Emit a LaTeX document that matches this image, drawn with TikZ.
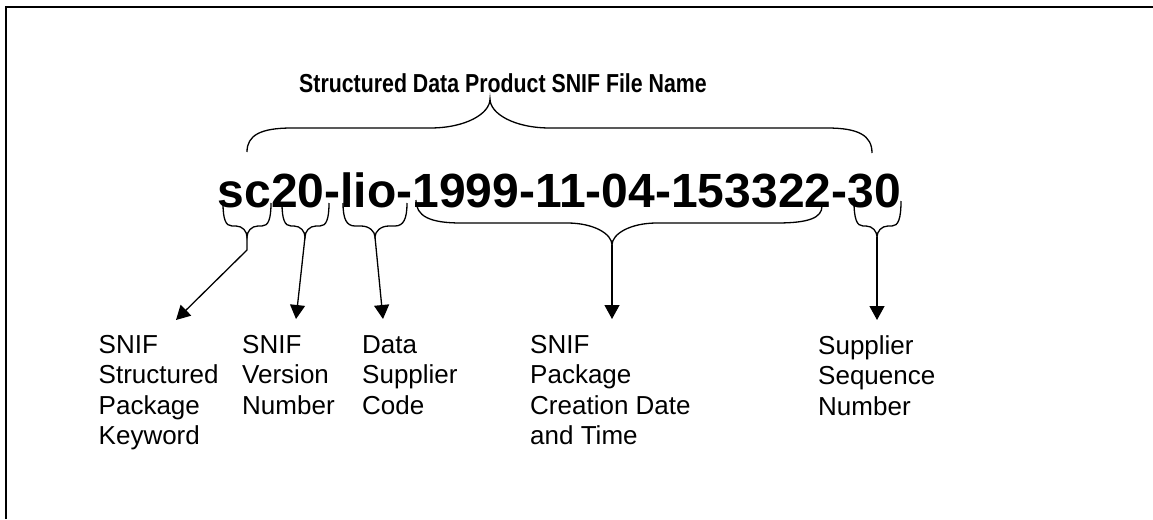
\documentclass[tikz,border=0pt]{standalone}
\usepackage{fontspec}
\setmainfont{Liberation Sans}
\newfontfamily\titulofont[FakeStretch=0.82]{Liberation Sans}
\usetikzlibrary{arrows.meta,calc}

%%%%	llave: x izq, x der, y izq, y der, y plano, x punta, y punta, rizo, curva
\newcommand{\llave}[9]{%
\draw[trazo]
 (#1,#3) .. controls (#1,{#3+0.7*(#5-#3)}) and ({#1+0.3*#8},#5) .. ({#1+#8},#5)
 -- ({#6-#9},#5) .. controls ({#6-0.4*#9},#5) and (#6,{#5+0.5*(#7-#5)}) .. (#6,#7)
 .. controls (#6,{#5+0.5*(#7-#5)}) and ({#6+0.4*#9},#5) .. ({#6+#9},#5)
 -- ({#2-#8},#5) .. controls ({#2-0.3*#8},#5) and (#2,{#4+0.7*(#5-#4)}) .. (#2,#4);}

\tikzset{
 trazo/.style={line width=1.3pt, black},
 flecha/.style={-{Triangle[length=14pt,width=15pt]}, line width=1.3pt, black},
 etiqueta/.style={anchor=north west, inner sep=0pt, align=left,
   font=\fontsize{26}{30.5}\selectfont,
   execute at begin node=\rule{0pt}{20pt}}		%%%%	misma altura de la primera linea
}

\begin{document}
\begin{tikzpicture}[x=1pt,y=-1pt]
\useasboundingbox (0,0) rectangle (1153,519);

%%%%%%%%%%%%%%%%%%%%%%%%%%%%%%%%%%%%%%%%%%%%%%%% 	MARCO
\draw[line width=2pt] (6,519) -- (6,7) -- (1153,7);

%%%%%%%%%%%%%%%%%%%%%%%%%%%%%%%%%%%%%%%%%%%%%%%% 	TITULO Y NOMBRE
\node[anchor=base, inner sep=0pt] (titulo) at (503,92.5)
 {\titulofont\bfseries\fontsize{26}{30}\selectfont Structured Data Product SNIF File Name};
\node[anchor=base west, inner sep=0pt] (nombre) at (217.5,207)
 {\bfseries\fontsize{48}{56}\selectfont sc20-lio-1999-11-04-153322-30};

%%%%%%%%%%%%%%%%%%%%%%%%%%%%%%%%%%%%%%%%%%%%%%%% 	LLAVES
\llave{247}{872}{152}{153}{128}{490}{99}{45}{60}		%%%%	llave de arriba
\llave{223}{271}{203}{203}{226}{247}{237}{9}{11}		%%%%	sc
\llave{282}{329}{203}{203}{226}{305}{237}{9}{11}		%%%%	20
\llave{343}{407}{203}{203}{226}{375}{237}{12}{14}		%%%%	lio
\llave{416}{822}{200}{206}{223}{612}{245}{45}{45}		%%%%	fecha y hora
\llave{854}{901}{201}{201}{226}{877}{237}{9}{11}		%%%%	30

\coordinate (puntaA) at (247,237);
\coordinate (puntaB) at (305,237);
\coordinate (puntaC) at (375,237);
\coordinate (puntaD) at (612,245);
\coordinate (puntaE) at (877,237);
\coordinate (quiebreA) at (247,250);

\coordinate (finA) at (176,320);
\coordinate (finB) at (296,319);
\coordinate (finC) at (383,319);
\coordinate (finD) at (612,319);
\coordinate (finE) at (877,320);

%%%%%%%%%%%%%%%%%%%%%%%%%%%%%%%%%%%%%%%%%%%%%%%% 	FLECHAS
\draw[flecha] (puntaA) -- (quiebreA) -- (finA);
\draw[flecha] (puntaB) -- (finB);
\draw[flecha] (puntaC) -- (finC);
\draw[flecha] (puntaD) -- (finD);
\draw[flecha] (puntaE) -- (finE);

%%%%%%%%%%%%%%%%%%%%%%%%%%%%%%%%%%%%%%%%%%%%%%%% 	ETIQUETAS
\node[etiqueta] (clave) at (98.5,335) {SNIF\\Structured\\Package\\Keyword};
\node[etiqueta] (version) at (242,335) {SNIF\\Version\\Number};
\node[etiqueta] (proveedor) at (362,335) {Data\\Supplier\\Code};
\node[etiqueta] (fecha) at (530,335) {SNIF\\Package\\Creation Date\\and Time};
\node[etiqueta] (secuencia) at (818,335) {Supplier\\Sequence\\Number};

\end{tikzpicture}
\end{document}
